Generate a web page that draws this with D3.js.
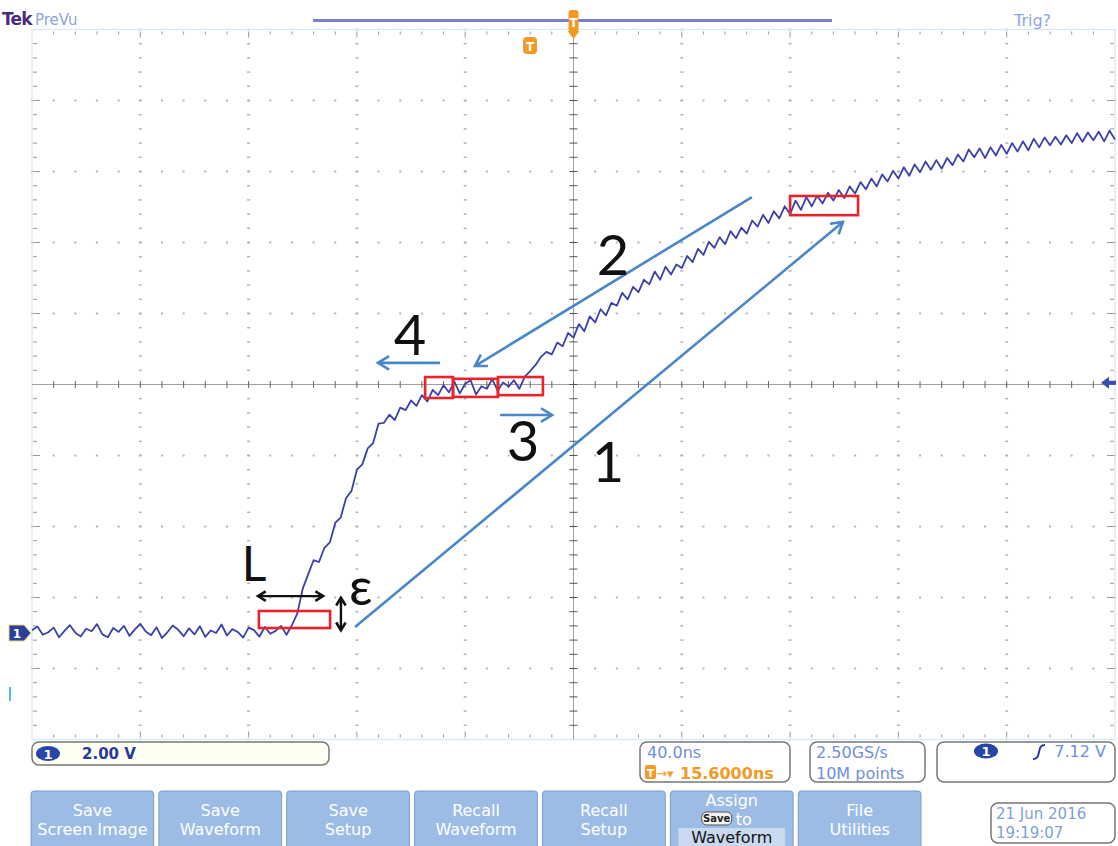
<!DOCTYPE html>
<html><head><meta charset="utf-8">
<script src="https://cdn.jsdelivr.net/npm/d3@7"></script>
<style>body{margin:0;background:#fff}svg{display:block}</style>
</head><body>
<svg id="c" width="1118" height="846"></svg>
<script>
// ---- data (time in ns, volts) ----
const timeStartNs = -200, timeStepNs = 2;
const ch1Volts = [
0.08,0.18,-0.05,0.02,0.15,-0.12,0.06,0.22,0.01,-0.10,
0.12,0.05,0.25,-0.04,-0.12,0.14,0.03,0.20,-0.08,0.10,
0.26,0.04,-0.06,0.16,-0.14,0.02,0.21,0.09,-0.09,0.13,
-0.04,0.19,-0.11,0.07,0.00,0.24,-0.07,0.11,0.03,-0.13,
0.15,0.08,-0.10,0.17,-0.02,0.06,0.20,-0.05,0.22,0.55,
1.25,1.65,2.05,2.00,2.40,2.55,3.10,3.25,3.80,4.00,
4.60,4.75,5.20,5.35,5.90,5.92,6.15,6.00,6.35,6.28,
6.55,6.40,6.70,6.52,6.85,6.70,6.98,6.78,7.08,6.75,
7.02,7.12,6.72,6.95,6.88,7.15,6.82,7.06,6.94,7.12,
6.88,7.22,7.38,7.55,7.78,7.92,7.85,8.18,8.08,8.45,
8.32,8.70,8.50,8.92,8.75,9.12,8.95,9.30,9.22,9.58,
9.40,9.75,9.60,9.95,9.82,10.18,9.95,10.32,10.10,10.38,
10.28,10.62,10.45,10.82,10.65,11.02,10.85,11.15,10.95,11.32,
11.12,11.42,11.25,11.62,11.45,11.78,11.55,11.88,11.68,12.02,
11.80,12.18,11.92,12.28,12.02,12.32,12.10,12.40,12.18,12.48,
12.25,12.58,12.38,12.70,12.50,12.80,12.58,12.92,12.72,13.02,
12.80,13.12,12.88,13.20,12.98,13.28,13.05,13.32,13.08,13.38,
13.18,13.48,13.28,13.62,13.40,13.65,13.38,13.68,13.45,13.75,
13.50,13.80,13.56,13.85,13.60,13.92,13.68,13.96,13.74,13.98,
13.76,14.02,13.80,14.08,13.84,14.10,13.88,14.12,13.85,14.15,
13.90];
const xDomainNs = [-200, 200];
const yDomainV = [-3, 17];
const nsPerDiv = 40, voltsPerDiv = 2, minorPerDiv = 5;
const triggerLevelV = 7.12;

// annotations (data units)
const arrowsBlue = [ // [t1,v1,t2,v2], head at second point
  [-80.7, 0.17, 99.5, 11.58],
  [65.9, 12.28, -36.4, 7.52],
  [-27.1, 6.14, -7.9, 6.14],
  [-49.3, 7.61, -72.2, 7.61]
];
const arrowLabels = [["1",12.7,4.87],["2",14.6,10.68],["3",-18.7,5.44],["4",-60.4,8.45]];
const redBoxes = [ // [t1,v1,t2,v2]
  [-116.2,0.62,-89.9,0.14],
  [-54.8,7.21,-44.5,6.62],
  [-44.5,7.16,-27.9,6.65],
  [-27.9,7.21,-11.3,6.70],
  [80.0,12.31,105.1,11.77]
];
const dblArrows = [[-116.5,1.04,-92.5,1.04],[-85.9,0.99,-85.9,0.08]];
const symLabels = [["L",-118,2.0,48],["ε",-78.6,1.35,52]];

const buttons = [["Save","Screen Image"],["Save","Waveform"],["Save","Setup"],["Recall","Waveform"],["Recall","Setup"],["Assign","to","Waveform"],["File","Utilities"]];

// ---- drawing ----
const svg = d3.select("#c");
const x = d3.scaleLinear().domain(xDomainNs).range([32,1115]);
const y = d3.scaleLinear().domain(yDomainV).range([739.5,29.5]);
const UI = "DejaVu Sans, sans-serif";

const minorX = d3.range(xDomainNs[0], xDomainNs[1]+0.01, nsPerDiv/minorPerDiv);
const minorY = d3.range(yDomainV[0], yDomainV[1]+0.01, voltsPerDiv/minorPerDiv);
const majX = d3.range(xDomainNs[0], xDomainNs[1]+0.01, nsPerDiv);
const majY = d3.range(yDomainV[0], yDomainV[1]+0.01, voltsPerDiv);

const g = svg.append("g");
// dotted grid
majX.filter(d=>d!==0 && d!==xDomainNs[0] && d!==xDomainNs[1]).forEach(xv=>{
  g.selectAll(null).data(minorY).join("rect")
   .attr("x",x(xv)-1.5).attr("y",d=>y(d)-0.75).attr("width",3).attr("height",1.5).attr("fill","#b4b4b4");
});
majY.filter(d=>d!==7 && d!==yDomainV[0] && d!==yDomainV[1]).forEach(yv=>{
  g.selectAll(null).data(minorX).join("rect")
   .attr("x",d=>x(d)-1).attr("y",y(yv)-1).attr("width",2).attr("height",2).attr("fill","#b4b4b4");
});
// border
g.append("rect").attr("x",x(-200)).attr("y",y(17)).attr("width",x(200)-x(-200)).attr("height",y(-3)-y(17))
 .attr("fill","none").attr("stroke","#d6e7f7").attr("stroke-width",1.2);
// border ticks
const isMajX = d=>Math.abs(d % nsPerDiv) < 0.01;
const isMajY = d=>Math.abs((d-yDomainV[0]) % voltsPerDiv) < 0.01;
g.selectAll(null).data(minorX.slice(1,-1)).join("line")
 .attr("x1",d=>x(d)).attr("x2",d=>x(d)).attr("y1",y(17)+2).attr("y2",d=>y(17)+(isMajX(d)?8:5))
 .attr("stroke","#999").attr("stroke-width",1);
g.selectAll(null).data(minorX.slice(1,-1)).join("line")
 .attr("x1",d=>x(d)).attr("x2",d=>x(d)).attr("y1",y(-3)-2).attr("y2",d=>y(-3)-(isMajX(d)?8:5))
 .attr("stroke","#999").attr("stroke-width",1);
g.selectAll(null).data(minorY.slice(1,-1)).join("line")
 .attr("y1",d=>y(d)).attr("y2",d=>y(d)).attr("x1",x(-200)+1).attr("x2",d=>x(-200)+(isMajY(d)?8:5))
 .attr("stroke","#999").attr("stroke-width",1);
g.selectAll(null).data(minorY.slice(1,-1)).join("line")
 .attr("y1",d=>y(d)).attr("y2",d=>y(d)).attr("x1",x(200)-1).attr("x2",d=>x(200)-(isMajY(d)?8:5))
 .attr("stroke","#999").attr("stroke-width",1);
// center axes
g.append("line").attr("x1",x(-200)).attr("x2",x(200)).attr("y1",y(7)).attr("y2",y(7)).attr("stroke","#a0a0a0");
g.append("line").attr("x1",x(0)).attr("x2",x(0)).attr("y1",y(17)).attr("y2",y(-3)).attr("stroke","#a0a0a0");
g.selectAll(null).data(minorX.slice(1,-1)).join("line")
 .attr("x1",d=>x(d)).attr("x2",d=>x(d)).attr("y1",y(7)-3.5).attr("y2",y(7)+3.5).attr("stroke","#666");
g.selectAll(null).data(minorY.slice(1,-1)).join("line")
 .attr("y1",d=>y(d)).attr("y2",d=>y(d)).attr("x1",x(0)-4).attr("x2",x(0)+4).attr("stroke","#555");

// waveform
const pts = ch1Volts.map((v,i)=>[timeStartNs + i*timeStepNs, v]);
svg.append("path").datum(pts)
 .attr("d", d3.line().x(d=>x(d[0])).y(d=>y(d[1])))
 .attr("fill","none").attr("stroke","#3c40a8").attr("stroke-width",1.8).attr("stroke-linejoin","round");

// annotation helpers
function chevron(gr, x1,y1,x2,y2, col, size){
  const a = Math.atan2(y2-y1, x2-x1), s=size, w=0.55;
  const p1=[x2 - s*Math.cos(a-w), y2 - s*Math.sin(a-w)];
  const p2=[x2 - s*Math.cos(a+w), y2 - s*Math.sin(a+w)];
  gr.append("path").attr("d",`M${p1}L${x2},${y2}L${p2}`).attr("fill","none")
    .attr("stroke",col).attr("stroke-width",2.6).attr("stroke-linejoin","miter");
}
const ann = svg.append("g");
arrowsBlue.forEach(([t1,v1,t2,v2])=>{
  ann.append("line").attr("x1",x(t1)).attr("y1",y(v1)).attr("x2",x(t2)).attr("y2",y(v2))
    .attr("stroke","#4a86c8").attr("stroke-width",2.6);
  chevron(ann, x(t1),y(v1),x(t2),y(v2),"#4a86c8",13);
});
redBoxes.forEach(([t1,v1,t2,v2])=>{
  ann.append("rect").attr("x",x(t1)).attr("y",y(v1)).attr("width",x(t2)-x(t1)).attr("height",y(v2)-y(v1))
    .attr("fill","none").attr("stroke","#e8232b").attr("stroke-width",2.6);
});
dblArrows.forEach(([t1,v1,t2,v2])=>{
  ann.append("line").attr("x1",x(t1)).attr("y1",y(v1)).attr("x2",x(t2)).attr("y2",y(v2))
    .attr("stroke","#111").attr("stroke-width",2.4);
  chevron(ann, x(t1),y(v1),x(t2),y(v2),"#111",9);
  chevron(ann, x(t2),y(v2),x(t1),y(v1),"#111",9);
});
arrowLabels.forEach(([s,t,v])=>{
  ann.append("text").attr("x",x(t)).attr("y",y(v)).attr("text-anchor","middle").attr("dominant-baseline","central")
    .attr("font-family","Lato, 'Open Sans', sans-serif").attr("font-size",56).attr("fill","#111").text(s);
});
symLabels.forEach(([s,t,v,fs])=>{
  ann.append("text").attr("x",x(t)).attr("y",y(v)).attr("text-anchor","middle").attr("dominant-baseline","central")
    .attr("font-family","Lato, 'Open Sans', sans-serif").attr("font-size",fs).attr("fill","#111").text(s);
});

// ---- header ----
svg.append("text").attr("x",2).attr("y",25).attr("font-family",UI).attr("font-weight","bold").attr("font-size",17)
 .attr("fill","#4b2a7c").attr("letter-spacing",-0.8).text("Tek");
svg.append("text").attr("x",35).attr("y",25).attr("font-family",UI).attr("font-size",15)
 .attr("fill","#8fa3e6").text("PreVu");
svg.append("text").attr("x",1014).attr("y",26).attr("font-family",UI).attr("font-size",16)
 .attr("fill","#8fa3e6").text("Trig?");
svg.append("line").attr("x1",313).attr("x2",832).attr("y1",20.5).attr("y2",20.5).attr("stroke","#7d80cf").attr("stroke-width",3);
// trigger position marker
const tx = x(0);
svg.append("rect").attr("x",tx-5).attr("y",10).attr("width",10).attr("height",22).attr("rx",3).attr("fill","#f29a25");
svg.append("text").attr("x",tx).attr("y",27).attr("text-anchor","middle").attr("font-family",UI).attr("font-size",12)
 .attr("font-weight","bold").attr("fill","#fff").text("T");
svg.append("path").attr("d",`M${tx-6},31L${tx+6},31L${tx},39Z`).attr("fill","#f29a25");
// T badge
svg.append("rect").attr("x",523).attr("y",37).attr("width",14).attr("height",17).attr("rx",4).attr("fill","#f29a25");
svg.append("text").attr("x",530).attr("y",51).attr("text-anchor","middle").attr("font-family",UI).attr("font-size",12)
 .attr("font-weight","bold").attr("fill","#fff").text("T");
// trigger level arrow right
const ty = y(7.05);
svg.append("path").attr("d",`M${x(200)-14},${ty}L${x(200)-6},${ty-6}L${x(200)-6},${ty-2}L${x(200)+1},${ty-2}L${x(200)+1},${ty+2}L${x(200)-6},${ty+2}L${x(200)-6},${ty+6}Z`)
 .attr("fill","#3a4bb5");
// channel 1 marker left
const cy = y(0);
svg.append("path").attr("d",`M9,${cy-8}L24,${cy-8}L31,${cy}L24,${cy+8}L9,${cy+8}Z`).attr("fill","#2a3f9c").attr("stroke","#e8d86a").attr("stroke-width",1);
svg.append("text").attr("x",17).attr("y",cy+5).attr("text-anchor","middle").attr("font-family",UI).attr("font-size",12)
 .attr("font-weight","bold").attr("fill","#fff").text("1");
// faint cyan mark
svg.append("line").attr("x1",10).attr("x2",10).attr("y1",687).attr("y2",701).attr("stroke","#49c5df").attr("stroke-width",2);

// ---- readout boxes ----
function box(x0,y0,w,h,fill){
  svg.append("rect").attr("x",x0).attr("y",y0).attr("width",w).attr("height",h).attr("rx",7)
   .attr("fill",fill||"#fff").attr("stroke","#777").attr("stroke-width",1.5);
}
function chBadge(cx,cyy){
  svg.append("ellipse").attr("cx",cx).attr("cy",cyy).attr("rx",12).attr("ry",7.5).attr("fill","#2747a8");
  svg.append("text").attr("x",cx).attr("y",cyy+5).attr("text-anchor","middle").attr("font-family",UI).attr("font-size",13)
   .attr("font-weight","bold").attr("fill","#fff").text("1");
}
function txt(s,x0,y0,col,opts){
  const t = svg.append("text").attr("x",x0).attr("y",y0).attr("font-family",UI).attr("font-size",(opts&&opts.size)||16)
   .attr("fill",col).text(s);
  if(opts&&opts.bold) t.attr("font-weight","bold");
  if(opts&&opts.anchor) t.attr("text-anchor",opts.anchor);
  return t;
}
box(32,742,297,23,"#fffff4");
chBadge(48,753.5);
txt("2.00 V",82,759,"#2a3a9a",{bold:true,size:15});

box(640,742,150,40);
txt("40.0ns",647,758,"#6f8ee0");
svg.append("rect").attr("x",645).attr("y",765).attr("width",11).attr("height",14).attr("rx",2).attr("fill","#f29a25");
txt("T",650.5,777,"#fff",{size:11,bold:true,anchor:"middle"});
txt("→▾",656,778,"#f29a25",{size:13});
txt("15.6000ns",680,779,"#f29a25",{bold:true});

box(810,742,115,40);
txt("2.50GS/s",816,758,"#6f8ee0");
txt("10M points",816,779,"#6f8ee0");

box(937,742,178,40);
chBadge(986,751);
svg.append("path").attr("d","M1033,759 C1037,759 1038,757 1039,752 C1040,747 1041,745 1045,745")
 .attr("fill","none").attr("stroke","#2a3a9a").attr("stroke-width",2);
txt(`${triggerLevelV.toFixed(2)} V`,1106,757,"#6f8ee0",{anchor:"end"});

// ---- buttons ----
const bx = d3.scaleBand().domain(d3.range(buttons.length)).range([31,921]).paddingInner(0.04);
buttons.forEach((lines,i)=>{
  const x0 = bx(i), w = bx.bandwidth(), cx = x0 + w/2;
  svg.append("rect").attr("x",x0).attr("y",791).attr("width",w).attr("height",60).attr("rx",3)
   .attr("fill","#9dbce5").attr("stroke","#7e9ccb").attr("stroke-width",1);
  if(lines.length===2){
    txt(lines[0],cx,816,"#fff",{anchor:"middle"});
    txt(lines[1],cx,835,"#fff",{anchor:"middle"});
  } else {
    txt(lines[0],cx,806,"#fff",{anchor:"middle"});
    svg.append("rect").attr("x",cx-30).attr("y",812).attr("width",30).attr("height",13).attr("rx",5)
     .attr("fill","#f2f2f2").attr("stroke","#555");
    txt("Save",cx-15,822,"#222",{anchor:"middle",size:10,bold:true});
    txt(lines[1],cx+4,825,"#fff");
    svg.append("rect").attr("x",x0+8).attr("y",828).attr("width",w-16).attr("height",18).attr("fill","#c9d9f0");
    txt(lines[2],cx,843,"#111",{anchor:"middle"});
  }
});
// date box
box(991,803,124,40);
txt("21 Jun  2016",996,819,"#7f9fd8",{size:15});
txt("19:19:07",996,838,"#7f9fd8",{size:15});
</script>
</body></html>
